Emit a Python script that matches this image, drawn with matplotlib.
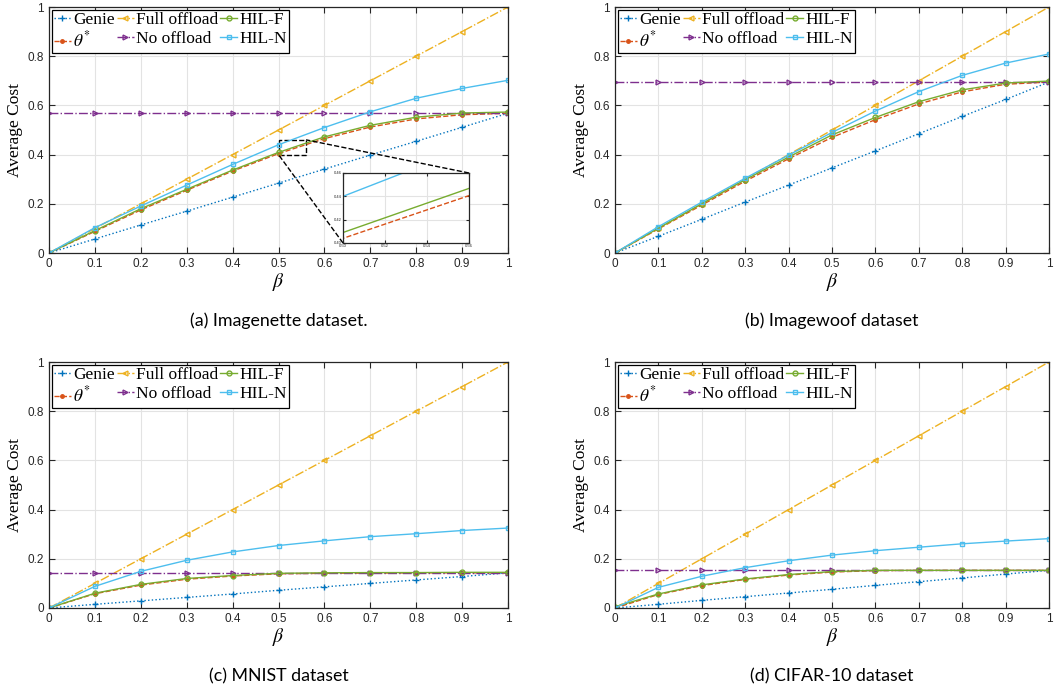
import matplotlib
matplotlib.use("Agg")
import matplotlib.pyplot as plt
import numpy as np
from mpl_toolkits.axes_grid1.inset_locator import mark_inset

# -----------------------------
# Data
# -----------------------------
beta = [0, 0.1, 0.2, 0.3, 0.4, 0.5, 0.6, 0.7, 0.8, 0.9, 1.0]

# (a) Imagenette
a_genie = [0, 0.057, 0.114, 0.170, 0.227, 0.284, 0.341, 0.398, 0.454, 0.511, 0.568]
a_theta = [0, 0.088, 0.175, 0.255, 0.333, 0.404, 0.465, 0.512, 0.545, 0.562, 0.568]
a_full = [0, 0.1, 0.2, 0.3, 0.4, 0.5, 0.6, 0.7, 0.8, 0.9, 1.0]
a_none = [0.568] * 11
a_hilf = [0, 0.091, 0.180, 0.259, 0.337, 0.409, 0.472, 0.519, 0.552, 0.569, 0.573]
a_hiln = [0, 0.103, 0.191, 0.276, 0.360, 0.440, 0.510, 0.574, 0.629, 0.669, 0.702]

# (b) Imagewoof
b_genie = [0, 0.068, 0.137, 0.207, 0.276, 0.346, 0.415, 0.485, 0.555, 0.624, 0.695]
b_theta = [0, 0.098, 0.195, 0.292, 0.383, 0.470, 0.542, 0.606, 0.655, 0.686, 0.695]
b_full = [0, 0.1, 0.2, 0.3, 0.4, 0.5, 0.6, 0.7, 0.8, 0.9, 1.0]
b_none = [0.695] * 11
b_hilf = [0, 0.101, 0.200, 0.298, 0.390, 0.480, 0.551, 0.615, 0.663, 0.691, 0.699]
b_hiln = [0, 0.107, 0.207, 0.304, 0.398, 0.490, 0.577, 0.656, 0.722, 0.772, 0.809]

# (c) MNIST
c_genie = [0, 0.015, 0.029, 0.043, 0.057, 0.072, 0.086, 0.100, 0.114, 0.128, 0.143]
c_theta = [0, 0.058, 0.093, 0.117, 0.130, 0.139, 0.141, 0.142, 0.143, 0.143, 0.143]
c_full = [0, 0.1, 0.2, 0.3, 0.4, 0.5, 0.6, 0.7, 0.8, 0.9, 1.0]
c_none = [0.143] * 11
c_hilf = [0, 0.060, 0.096, 0.120, 0.132, 0.141, 0.143, 0.144, 0.144, 0.145, 0.145]
c_hiln = [0, 0.088, 0.149, 0.194, 0.228, 0.254, 0.273, 0.290, 0.302, 0.315, 0.325]

# (d) CIFAR-10
d_genie = [0, 0.015, 0.031, 0.046, 0.061, 0.076, 0.092, 0.107, 0.122, 0.138, 0.153]
d_theta = [0, 0.055, 0.091, 0.116, 0.134, 0.146, 0.152, 0.153, 0.153, 0.153, 0.153]
d_full = [0, 0.1, 0.2, 0.3, 0.4, 0.5, 0.6, 0.7, 0.8, 0.9, 1.0]
d_none = [0.153] * 11
d_hilf = [0.005, 0.057, 0.094, 0.118, 0.136, 0.148, 0.153, 0.153, 0.153, 0.153, 0.153]
d_hiln = [0, 0.084, 0.129, 0.164, 0.192, 0.215, 0.233, 0.247, 0.261, 0.272, 0.282]

captions = ["(a) Imagenette dataset.", "(b) Imagewoof dataset",
            "(c) MNIST dataset", "(d) CIFAR-10 dataset"]

# -----------------------------
# Styles (MATLAB default palette)
# -----------------------------
styles = [
    ("Genie", "#0072BD", ":", "+", 4),
    (r"$\theta^{*}$", "#D95319", "--", ".", 5),
    ("Full offload", "#EDB120", "-.", "<", 3.5),
    ("No offload", "#7E2F8E", "-.", ">", 3.5),
    ("HIL-F", "#77AC30", "-", "o", 3.5),
    ("HIL-N", "#4DBEEE", "-", "s", 3.5),
]

serif = ["Liberation Serif", "DejaVu Serif"]
plt.rcParams["mathtext.fontset"] = "stix"
plt.rcParams["font.family"] = ["Liberation Sans", "DejaVu Sans"]

fig = plt.figure(figsize=(10.54, 6.94), dpi=100)
W, H = 1054, 694

boxes = [(49, 508, 7, 253), (615, 1049, 7, 253),
         (49, 508, 362, 608), (615, 1049, 362, 608)]
datasets = [
    (a_genie, a_theta, a_full, a_none, a_hilf, a_hiln),
    (b_genie, b_theta, b_full, b_none, b_hilf, b_hiln),
    (c_genie, c_theta, c_full, c_none, c_hilf, c_hiln),
    (d_genie, d_theta, d_full, d_none, d_hilf, d_hiln),
]


def style_axes(ax, fs=8.5):
    ax.tick_params(direction="in", top=True, right=True, labelsize=fs,
                   length=4, width=0.8, colors="#262626")
    for s in ax.spines.values():
        s.set_color("#262626")
        s.set_linewidth(0.9)
    ax.grid(True, color="#e3e3e3", linewidth=0.8)
    ax.set_axisbelow(True)


axes = []
for i, (x0, x1, y0, y1) in enumerate(boxes):
    ax = fig.add_axes([x0 / W, 1 - y1 / H, (x1 - x0) / W, (y1 - y0) / H])
    axes.append(ax)
    for (lab, col, ls, mk, ms), vals in zip(styles, datasets[i]):
        ax.plot(beta, vals, color=col, linestyle=ls, marker=mk, markersize=ms,
                linewidth=1.0, label=lab, markerfacecolor="none" if mk in "os<>" else col,
                markeredgewidth=1.0)
    ax.set_xlim(0, 1)
    ax.set_ylim(0, 1)
    ax.set_xticks(beta)
    ax.set_xticklabels(["0", "0.1", "0.2", "0.3", "0.4", "0.5", "0.6", "0.7",
                        "0.8", "0.9", "1"])
    ax.set_yticks([0, 0.2, 0.4, 0.6, 0.8, 1])
    ax.set_yticklabels(["0", "0.2", "0.4", "0.6", "0.8", "1"])
    style_axes(ax)
    ax.set_xlabel(r"$\beta$", fontsize=14, labelpad=1)
    ax.set_ylabel("Average Cost", fontsize=12.5, family=serif, labelpad=3)
    leg = ax.legend(loc="upper left", ncol=3, prop={"family": serif, "size": 12.5},
                    handlelength=0.95, handletextpad=0.12, columnspacing=0.15,
                    borderpad=0.15, labelspacing=0.14, borderaxespad=0.15,
                    fancybox=False, framealpha=1, edgecolor="black")
    leg.get_frame().set_linewidth(0.9)
    cx = (x0 + x1) / 2 / W
    cy = 1 - (y1 + 68) / H
    fig.text(cx, cy, captions[i], ha="center", va="center", fontsize=12.8,
             family=["Lato", "DejaVu Sans"])

# inset zoom on panel (a)
ax = axes[0]
ins = fig.add_axes([343 / W, 1 - 243 / H, (469 - 343) / W, (243 - 173) / H])
for (lab, col, ls, mk, ms), vals in zip(styles, datasets[0]):
    ins.plot(beta, vals, color=col, linestyle=ls, linewidth=1.0)
ins.set_xlim(0.5, 0.56)
ins.set_ylim(0.40, 0.46)
ins.set_xticks([0.5, 0.52, 0.54, 0.56])
ins.set_yticks([0.40, 0.42, 0.44, 0.46])
style_axes(ins, fs=3)
ins.tick_params(length=2, pad=1)
ins.set_facecolor("white")
pp, c1, c2 = mark_inset(ax, ins, loc1=1, loc2=3, fc="none", ec="black",
                        linestyle="--", linewidth=1.0)

fig.savefig("out.png", dpi=100)
